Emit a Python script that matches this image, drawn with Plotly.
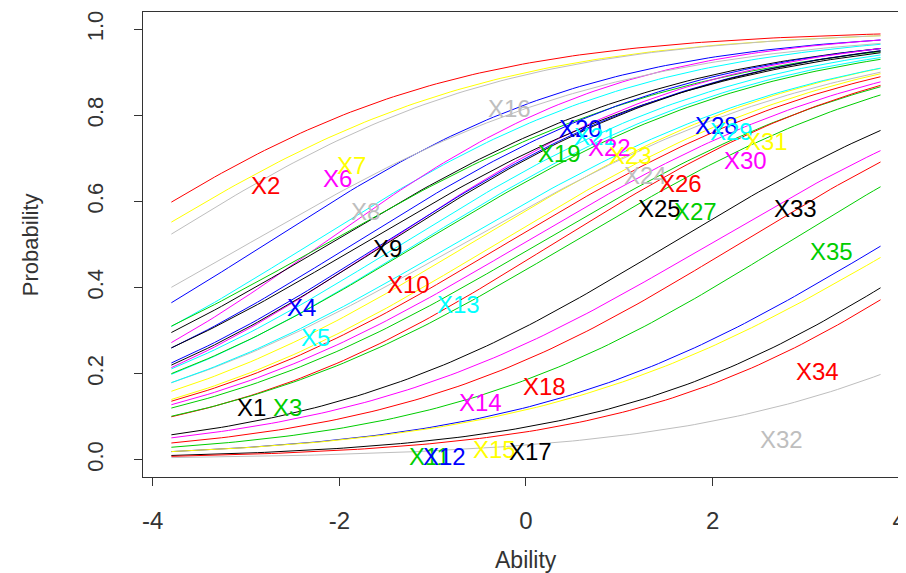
import numpy as np
import plotly.graph_objects as go

# ---- data ----
items = [f"X{i}" for i in range(1, 36)]
discrimination = [0.522, 0.539, 0.508, 0.555, 0.542, 0.611, 0.522, 0.498, 0.517, 0.518,
                  0.534, 0.517, 0.533, 0.508, 0.503, 0.537, 0.551, 0.528, 0.487, 0.540,
                  0.536, 0.573, 0.522, 0.490, 0.513, 0.539, 0.513, 0.550, 0.504, 0.512,
                  0.523, 0.512, 0.553, 0.565, 0.523]
difficulty = [1.54, -4.54, 0.12, -2.80, -2.32, -2.19, -4.20, -2.99, -2.12, -0.23,
              2.77, 3.83, -1.18, 1.96, 4.04, -3.98, 4.54, 2.27, -2.16, -1.86,
              -1.34, -1.53, -0.61, -0.69, -1.76, 0.28, 0.46, -1.55, -0.78, -0.05,
              -0.33, 6.53, -1.51, 4.73, -1.15]
label_prob = [0.121, 0.636, 0.121, 0.354, 0.284, 0.653, 0.683, 0.576, 0.490, 0.408,
              0.007, 0.007, 0.361, 0.133, 0.023, 0.816, 0.019, 0.170, 0.711, 0.770,
              0.750, 0.725, 0.706, 0.660, 0.583, 0.641, 0.576, 0.776, 0.762, 0.695,
              0.739, 0.047, 0.583, 0.205, 0.483]
palette = ["#000000", "#FF0000", "#00CD00", "#0000FF",
           "#00FFFF", "#FF00FF", "#FFFF00", "#BEBEBE"]
x_ticks = [-4, -2, 0, 2, 4]
y_ticks = [0.0, 0.2, 0.4, 0.6, 0.8, 1.0]
y_tick_text = ["0.0", "0.2", "0.4", "0.6", "0.8", "1.0"]

theta = np.linspace(-3.8, 3.8, 100)
pos = np.round(np.linspace(10, 90, len(items))).astype(int)

FONT = "Liberation Sans, Arial"
font_col = "#333333"

fig = go.Figure()
for i, name in enumerate(items):
    a, b = discrimination[i], difficulty[i]
    p = 1.0 / (1.0 + np.exp(-a * (theta - b)))
    fig.add_trace(go.Scatter(x=theta, y=p, mode="lines", name=name,
                             line=dict(color=palette[i % 8], width=1),
                             showlegend=False, hoverinfo="skip"))

annotations = []
for i, name in enumerate(items):
    annotations.append(dict(x=float(theta[pos[i] - 1]), y=label_prob[i], xref="x", yref="y",
                            text=name, showarrow=False, xanchor="left", yanchor="middle",
                            font=dict(family=FONT, size=24, color=palette[i % 8]),
                            borderpad=0))

annotations.append(dict(x=0, y=-0.178, xref="x", yref="paper", text="Ability",
                        showarrow=False, xanchor="center", yanchor="middle",
                        font=dict(family=FONT, size=23, color=font_col)))
annotations.append(dict(x=-0.148, y=0.5, xref="paper", yref="paper", text="Probability",
                        showarrow=False, xanchor="center", yanchor="middle", textangle=-90,
                        font=dict(family=FONT, size=22, color=font_col)))

fig.update_layout(
    width=898, height=565,
    margin=dict(l=135, r=0, t=4, b=96),
    paper_bgcolor="white", plot_bgcolor="white",
    annotations=annotations,
    xaxis=dict(range=[-4.104, 4.030], tickvals=x_ticks,
               ticktext=[str(v) for v in x_ticks], ticklabeloverflow="allow",
               showgrid=False, zeroline=False, showline=True, mirror=True,
               linecolor=font_col, linewidth=1, ticks="outside", ticklen=8,
               tickcolor=font_col, ticklabelstandoff=14,
               tickfont=dict(family=FONT, size=24, color=font_col)),
    yaxis=dict(range=[-0.04, 1.04], tickvals=y_ticks, ticktext=y_tick_text,
               showgrid=False, zeroline=False, showline=True, mirror=False,
               linecolor=font_col, linewidth=1, ticks="outside", ticklen=8,
               tickcolor=font_col, tickangle=-90, ticklabelstandoff=22,
               tickfont=dict(family=FONT, size=22, color=font_col)),
)

fig.write_html("out.html")
